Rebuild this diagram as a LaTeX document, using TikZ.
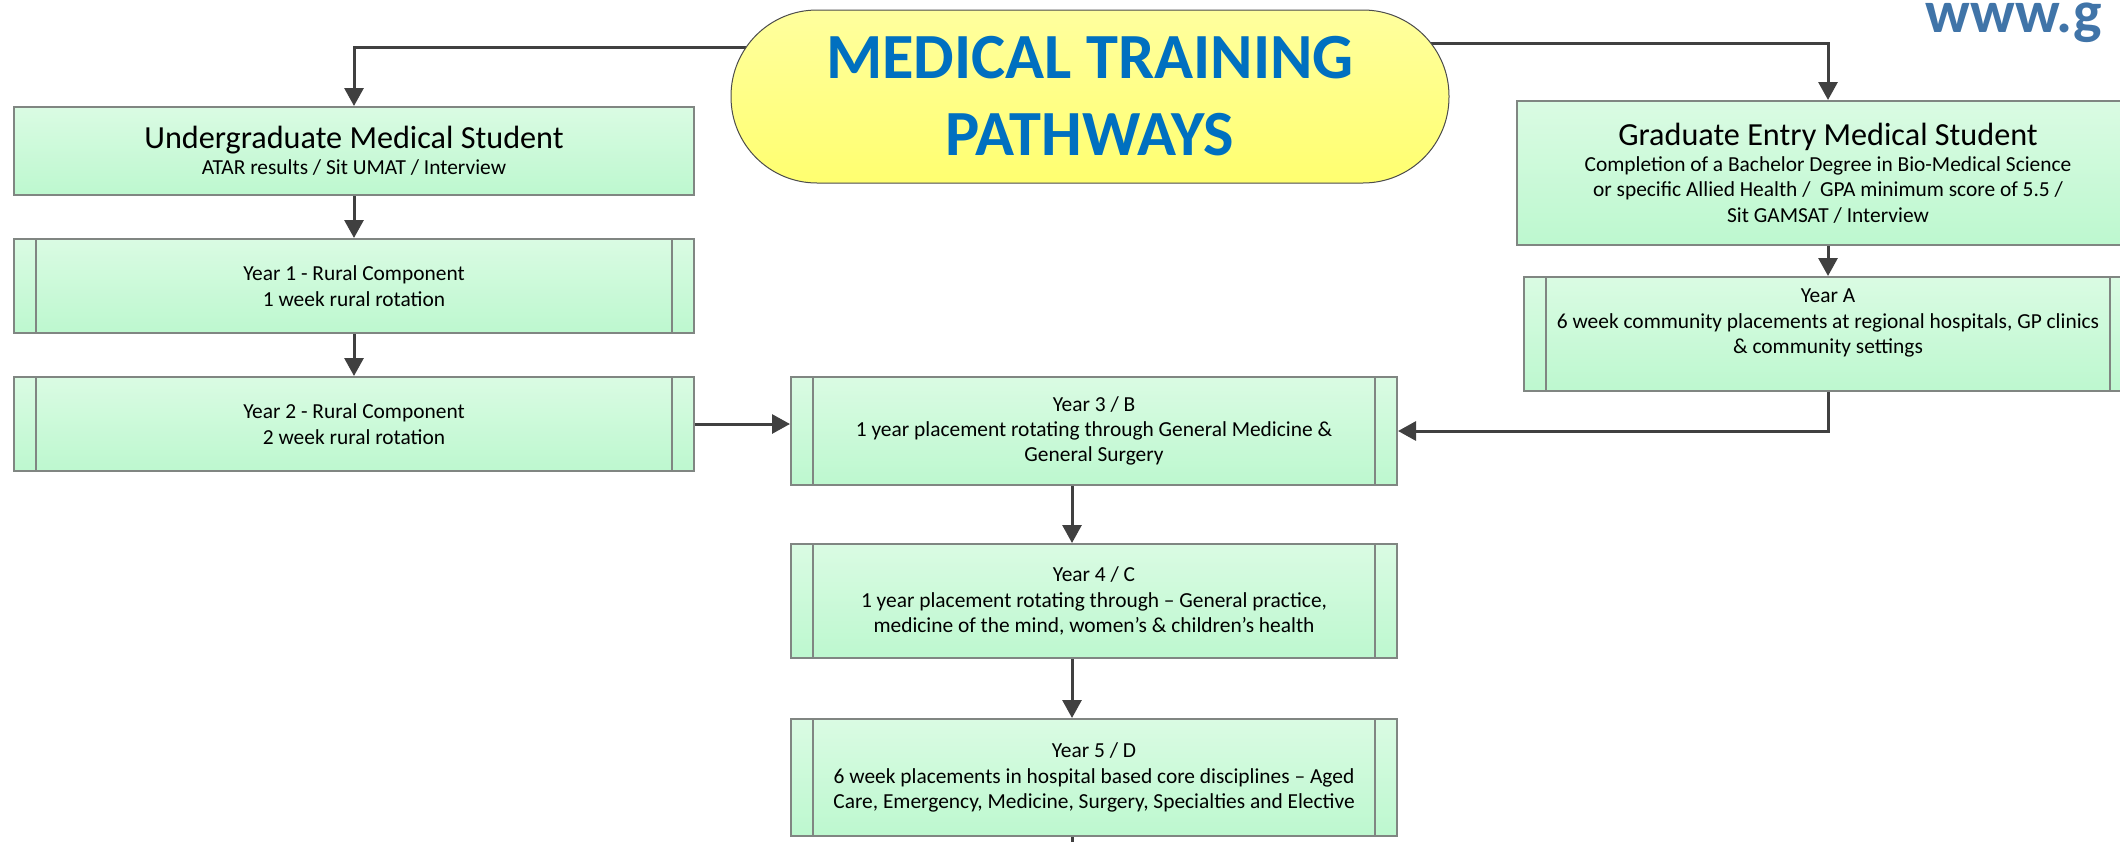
\documentclass[tikz,border=0pt]{standalone}
\usepackage{fontspec}
\setmainfont{Carlito}
\usetikzlibrary{shapes,arrows,arrows.meta}
\definecolor{mintlight}{RGB}{218,251,227}
\definecolor{mintdark}{RGB}{189,248,207}
\definecolor{boxgray}{RGB}{128,134,130}
\definecolor{linkgray}{RGB}{64,64,64}
\definecolor{sunlight}{RGB}{255,255,158}
\definecolor{sundark}{RGB}{255,255,112}
\definecolor{titleblue}{RGB}{0,112,192}
\definecolor{webblue}{RGB}{64,116,168}
\newcommand{\boxhead}{\fontsize{16.1}{17}\selectfont}
\newcommand{\boxbody}{\fontsize{10.7}{12.7}\selectfont}
\tikzstyle{entry} = [draw=boxgray, line width=1pt, rectangle, top color=mintlight, bottom color=mintdark, align=center, font=\boxbody, inner sep=0pt, minimum width=340pt, minimum height=47pt]
\tikzstyle{stage} = [entry, path picture={
    \draw[boxgray, line width=1pt] ([xshift=11pt]path picture bounding box.north west) -- ([xshift=11pt]path picture bounding box.south west);
    \draw[boxgray, line width=1pt] ([xshift=-11pt]path picture bounding box.north east) -- ([xshift=-11pt]path picture bounding box.south east);}]
\tikzstyle{banner} = [draw=black!70, line width=0.5pt, rectangle, rounded corners=43pt, top color=sunlight, bottom color=sundark, text=titleblue, align=center, font=\fontsize{32.2}{38.5}\selectfont\bfseries, minimum width=359pt, minimum height=86.5pt]
\tikzstyle{line} = [draw=linkgray, line width=1.5pt, -{Triangle[length=9pt,width=9.5pt]}]
\pgfdeclarelayer{background}
\pgfsetlayers{background,main}

\begin{document}
\begin{tikzpicture}[x=1pt, y=1pt]
    \useasboundingbox (0,0) rectangle (1060,-420.5);
    \node [banner] (title) at (545,-48.25) {MEDICAL TRAINING\\PATHWAYS};
    \node [anchor=base west, inner sep=0pt, text=webblue, font=\fontsize{30}{36}\selectfont\bfseries] (web) at (962.5,-16) {www.g};

    % undergraduate pathway
    \node [entry, minimum height=44pt] (undergrad) at (177,-75.5) {{\boxhead Undergraduate Medical Student}\\[0.5pt]ATAR results / Sit UMAT / Interview};
    \node [stage, below of=undergrad, node distance=67.5pt] (year1) {Year 1 - Rural Component\\1 week rural rotation};
    \node [stage, below of=year1, node distance=69pt] (year2) {Year 2 - Rural Component\\2 week rural rotation};

    % graduate entry pathway
    \node [entry, minimum width=311pt, minimum height=72pt] (graduate) at (914,-86.5) {{\boxhead Graduate Entry Medical Student}\\[0.5pt]Completion of a Bachelor Degree in Bio-Medical Science\\or specific Allied Health /~ GPA minimum score of 5.5 /\\Sit GAMSAT / Interview};
    \node [stage, below of=graduate, node distance=80.5pt, minimum width=304pt, minimum height=57pt] (yearA) {Year A\\6 week community placements at regional hospitals, GP clinics\\\& community settings\\~};

    % common years
    \node [stage, minimum width=303pt, minimum height=54pt] (year3) at (547,-215.5) {Year 3 / B\\1 year placement rotating through General Medicine \&\\General Surgery};
    \node [stage, below of=year3, node distance=85pt, minimum width=303pt, minimum height=57pt] (year4) {Year 4 / C\\1 year placement rotating through – General practice,\\medicine of the mind, women’s \& children’s health};
    \node [stage, below of=year4, node distance=88.25pt, minimum width=303pt, minimum height=58.5pt] (year5) {Year 5 / D\\6 week placements in hospital based core disciplines – Aged\\Care, Emergency, Medicine, Surgery, Specialties and Elective};
    \coordinate (next) at ([xshift=-11pt,yshift=-20pt]year5.south);

    \begin{pgfonlayer}{background}
       \path [line] ([yshift=24.75pt]title.center) -| (undergrad);
       \path [line] ([yshift=26.75pt]title.center) -| (graduate);
    \end{pgfonlayer}
    \path [line] (undergrad) -- (year1);
    \path [line] (year1) -- (year2);
    \path [line] (year2) -- (year2 -| year3.west);
    \path [line] (graduate) -- (yearA);
    \path [line] (yearA) |- (year3);
    \path [line] ([xshift=-11pt]year3.south) -- ([xshift=-11pt]year4.north);
    \path [line] ([xshift=-11pt]year4.south) -- ([xshift=-11pt]year5.north);
    \draw [linkgray, line width=1.5pt] ([xshift=-11pt]year5.south) -- (next);
\end{tikzpicture}
\end{document}
